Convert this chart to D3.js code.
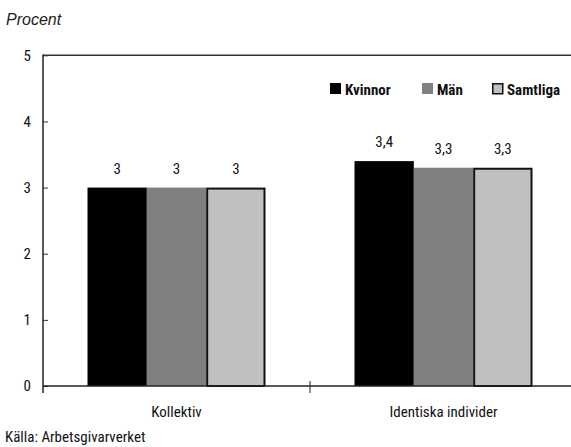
<!DOCTYPE html>
<html>
<head>
<meta charset="utf-8">
<script src="https://cdn.jsdelivr.net/npm/d3@7"></script>
<style>
  body { margin: 0; background: #fff; }
  svg text { font-family: "Roboto Condensed", "Roboto", sans-serif; font-stretch: condensed; fill: #111; }
</style>
</head>
<body>
<svg id="chart" width="571" height="447"></svg>
<script>
// Percentage increase by group, women / men / all
const categories = ["Kollektiv", "Identiska individer"];
const seriesNames = ["Kvinnor", "Män", "Samtliga"];
const kvinnor = [3, 3.4];
const man = [3, 3.3];
const samtliga = [3, 3.3];
const valueLabels = [["3", "3", "3"], ["3,4", "3,3", "3,3"]];
const yTicks = [0, 1, 2, 3, 4, 5];

const colors = ["#000000", "#808080", "#c0c0c0"];
const seriesValues = [kvinnor, man, samtliga];

const svg = d3.select("#chart");
const plotLeft = 43, plotRight = 577, plotTop = 55.3, plotBottom = 386;

const x = d3.scaleBand().domain(categories).range([plotLeft, plotRight]).paddingInner(0).paddingOuter(0);
const groupWidth = 178;
const x1 = d3.scaleBand().domain(seriesNames).range([0, groupWidth]).padding(0);
const y = d3.scaleLinear().domain([0, 5]).range([plotBottom, plotTop]);

// Title
svg.append("text").attr("x", 6).attr("y", 25)
  .style("font-family", "'Liberation Sans', Arial, sans-serif")
  .style("font-stretch", "normal")
  .style("font-style", "italic").style("font-size", "16px").style("fill", "#222")
  .text("Procent");

// Top frame line
svg.append("line").attr("x1", plotLeft).attr("x2", plotRight).attr("y1", plotTop).attr("y2", plotTop)
  .attr("stroke", "#333").attr("stroke-width", 1.5);

// Bars
const groups = svg.append("g").selectAll("g").data(categories).join("g")
  .attr("transform", c => `translate(${x(c) + (x.bandwidth() - groupWidth) / 2},0)`);

groups.each(function(c, ci) {
  const g = d3.select(this);
  seriesNames.forEach((s, si) => {
    const v = seriesValues[si][ci];
    const isLight = si === 2;
    g.append("rect")
      .attr("x", x1(s) + (isLight ? 1 : 0))
      .attr("y", y(v) + (isLight ? 1 : 0))
      .attr("width", x1.bandwidth() - (isLight ? 2 : 0))
      .attr("height", y(0) - y(v) - (isLight ? 1 : 0))
      .attr("fill", colors[si])
      .attr("stroke", isLight ? "#111" : "none")
      .attr("stroke-width", isLight ? 2 : 0);
    g.append("text")
      .attr("x", x1(s) + x1.bandwidth() / 2)
      .attr("y", y(v) - 14)
      .attr("text-anchor", "middle")
      .style("font-size", "15px")
      .text(valueLabels[ci][si]);
  });
});

// Y axis
const yAxis = d3.axisLeft(y).tickValues(yTicks).tickSize(-5).tickPadding(12).tickFormat(d3.format("d"));
const yg = svg.append("g").attr("transform", `translate(${plotLeft},0)`).call(yAxis);
yg.select(".domain").remove();
yg.selectAll(".tick line").attr("stroke", "#333");
yg.selectAll(".tick text").attr("font-family", null).style("font-size", "15px");
svg.append("line").attr("x1", plotLeft).attr("x2", plotLeft).attr("y1", plotTop - 0.75).attr("y2", plotBottom + 7)
  .attr("stroke", "#222").attr("stroke-width", 1.5);

// X axis
svg.append("line").attr("x1", plotLeft).attr("x2", plotRight).attr("y1", plotBottom).attr("y2", plotBottom)
  .attr("stroke", "#222").attr("stroke-width", 1.5);
const xBounds = [x(categories[1])];
svg.selectAll(".xtick").data(xBounds).join("line").attr("class", "xtick")
  .attr("x1", d => d).attr("x2", d => d).attr("y1", plotBottom - 5).attr("y2", plotBottom + 7)
  .attr("stroke", "#222").attr("stroke-width", 1);
svg.selectAll(".xlabel").data(categories).join("text").attr("class", "xlabel")
  .attr("x", c => x(c) + x.bandwidth() / 2).attr("y", 417)
  .attr("text-anchor", "middle").style("font-size", "15px")
  .text(c => c);

// Legend
const legendItems = [
  { name: "Kvinnor", x: 330 },
  { name: "Män", x: 422 },
  { name: "Samtliga", x: 492 }
];
const lg = svg.append("g").selectAll("g").data(legendItems).join("g")
  .attr("transform", d => `translate(${d.x},83)`);
lg.append("rect")
  .attr("x", (d, i) => i === 2 ? 0.75 : 0).attr("y", (d, i) => i === 2 ? 0.75 : 0)
  .attr("width", (d, i) => i === 2 ? 10 : 11).attr("height", (d, i) => i === 2 ? 10 : 11)
  .attr("fill", (d, i) => colors[i])
  .attr("stroke", (d, i) => i === 2 ? "#111" : "none").attr("stroke-width", 1.5);
lg.append("text").attr("x", 15).attr("y", 11.5)
  .style("font-size", "15px").style("font-weight", "bold")
  .text(d => d.name);

// Source
svg.append("text").attr("x", 5).attr("y", 442).style("font-size", "15px")
  .text("Källa: Arbetsgivarverket");
</script>
</body>
</html>
